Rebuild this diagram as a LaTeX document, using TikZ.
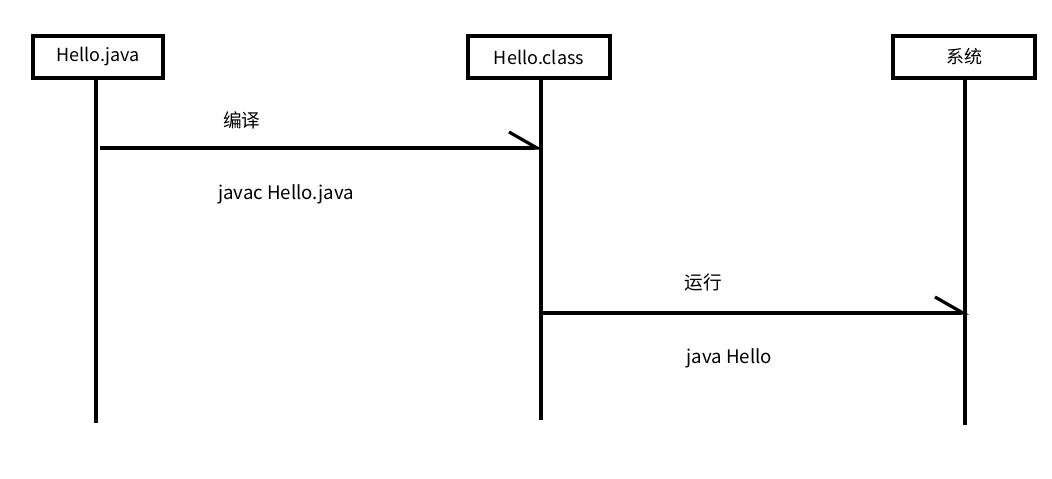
\documentclass[tikz,border=0pt]{standalone}
\usepackage{fontspec}
\setmainfont{Noto Sans CJK SC}
\usetikzlibrary{arrows.meta, positioning}

\tikzset{
  actor/.style={draw, line width=3pt, fill=white, minimum width=106pt,
    minimum height=31pt, inner sep=2pt, font=\fontsize{13.5}{15}\selectfont},
  lifeline/.style={line width=3pt},
  msg/.style={line width=2.4pt, -{Straight Barb[left, length=21pt, width=24pt, line width=2.4pt]}},
  msglabel/.style={font=\fontsize{14}{16}\selectfont}
}

\begin{document}
\begin{tikzpicture}[x=0.75pt, y=-0.75pt]
  \useasboundingbox (0,0) rectangle (1052,478);

  % Kopfboxen
  \node[actor, minimum width=97pt] (java) at (98, 57) {Hello.java};
  \node[actor] (class) at (539, 57) {Hello.class};
  \node[actor] (sys) at (964, 57) {系统};

  % Lebenslinien
  \coordinate (javatop) at ([xshift=-1.5pt]java.south);
  \coordinate (classtop) at ([xshift=1.5pt]class.south);
  \coordinate (systop) at ([xshift=0.75pt]sys.south);
  \coordinate (javaend) at (javatop |- 0,423);
  \coordinate (classend) at (classtop |- 0,420);
  \coordinate (sysend) at (systop |- 0,425);
  \draw[lifeline] (javatop) -- (javaend);
  \draw[lifeline] (classtop) -- (classend);
  \draw[lifeline] (systop) -- (sysend);

  % Nachrichten
  \coordinate (m1from) at ([xshift=3pt]javatop |- 0,148);
  \coordinate (m1to) at ([xshift=1.5pt]classtop |- 0,148);
  \coordinate (m2from) at (classtop |- 0,313);
  \coordinate (m2to) at ([xshift=3pt]systop |- 0,313);

  \draw[msg] (m1from) -- node[msglabel, pos=0.32, above=10pt] {编译}
    node[msglabel, pos=0.42, below=23pt] {javac Hello.java} (m1to);
  \draw[msg] (m2from) -- node[msglabel, pos=0.38, above=12pt] {运行}
    node[msglabel, pos=0.44, below=22pt] {java Hello} (m2to);
\end{tikzpicture}
\end{document}
